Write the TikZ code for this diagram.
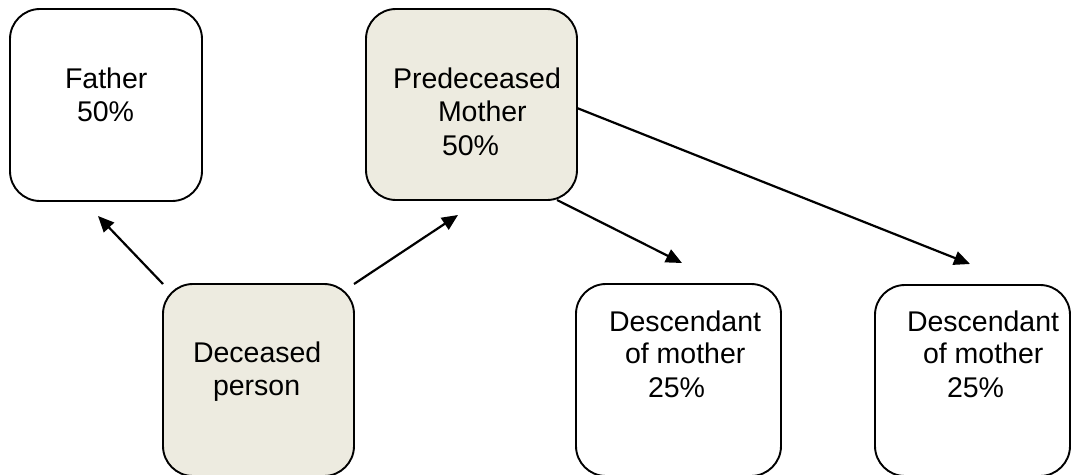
\documentclass[tikz,border=0pt]{standalone}
\usepackage{fontspec}
\setmainfont{Liberation Sans}
\usetikzlibrary{arrows.meta}
\definecolor{boxfill}{RGB}{237,235,224}
\begin{document}
\begin{tikzpicture}[x=1pt,y=-1pt,
  box/.style={draw=black, line width=1.9pt, rounded corners=30pt, inner sep=0pt, outer sep=0pt},
  plainbox/.style={box, fill=white},
  shadedbox/.style={box, fill=boxfill},
  lbl/.style={anchor=base west, inner sep=0pt, outer sep=0pt, font=\fontsize{28.5pt}{33pt}\selectfont},
  arr/.style={line width=2.2pt, -{Triangle[length=16pt,width=14pt]}}]
\clip (0,0) rectangle (1071,474);
\fill[white] (0,0) rectangle (1071,474);
% boxes
\node[plainbox, minimum width=192pt, minimum height=192pt] (fat) at (106,105) {};
\node[shadedbox, minimum width=211pt, minimum height=191pt] (mom) at (471.5,104.5) {};
\node[shadedbox, minimum width=191pt, minimum height=192pt] (dec) at (258.5,380) {};
\node[plainbox, minimum width=205pt, minimum height=192pt] (de1) at (678.5,380) {};
\node[plainbox, minimum width=195pt, minimum height=191pt] (de2) at (972.5,380.5) {};
% texts
\node[lbl] (fat1) at (65,88) {Father};
\node[lbl] (fat2) at (77,121) {50\%};
\node[lbl] (mom1) at (393,88) {Predeceased};
\node[lbl] (mom2) at (438,121) {Mother};
\node[lbl] (mom3) at (442,155) {50\%};
\node[lbl] (dec1) at (193,362) {Deceased};
\node[lbl] (dec2) at (213,395) {person};
\node[lbl] (de1a) at (609,331) {Descendant};
\node[lbl] (de1b) at (625,363) {of mother};
\node[lbl] (de1c) at (648,397) {25\%};
\node[lbl] (de2a) at (907,331) {Descendant};
\node[lbl] (de2b) at (923,363) {of mother};
\node[lbl] (de2c) at (947,397) {25\%};
% arrow end points
\coordinate (tF) at (98,216);
\coordinate (tM) at (458,215);
\coordinate (sM1) at (557,200);
\coordinate (t1) at (682,263);
\coordinate (sM2) at (577,108);
\coordinate (t2) at (970,264);
% connectors
\draw[arr] (dec.north west) -- (tF);
\draw[arr] (dec.north east) -- (tM);
\draw[arr] (sM1) -- (t1);
\draw[arr] (sM2) -- (t2);
\end{tikzpicture}
\end{document}
